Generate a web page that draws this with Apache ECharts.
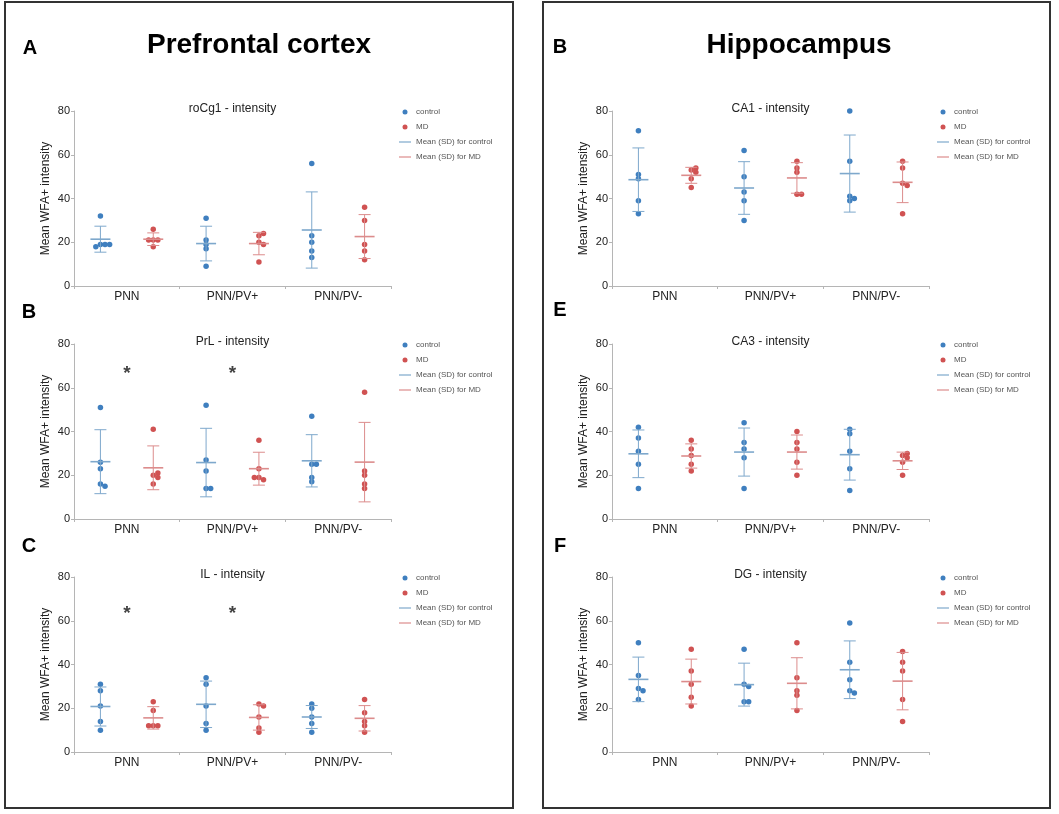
<!DOCTYPE html>
<html><head><meta charset="utf-8">
<script src="https://cdn.jsdelivr.net/npm/echarts@6/dist/echarts.min.js"></script>
<style>html,body{margin:0;padding:0;background:#fff}#c{width:1059px;height:814px}</style>
</head><body><div id="c"></div>
<script>
// ---------- data ----------
const categories = ['PNN', 'PNN/PV+', 'PNN/PV-'];
const yMin = 0, yMax = 80, yInterval = 20;

const roCg1_control = [[19, 19, 18, 19, 32], [31, 21, 17, 9, 19], [56, 23, 20, 16, 13]];
const roCg1_MD      = [[26, 21, 21, 21, 18], [23, 24, 20, 19, 11], [36, 30, 19, 16, 12]];
const PrL_control   = [[51, 26, 23, 16, 15], [52, 27, 22, 14, 14], [47, 25, 25, 19, 17]];
const PrL_MD        = [[41, 20, 21, 19, 16], [36, 23, 19, 18, 19], [58, 22, 20, 16, 14]];
const IL_control    = [[31, 28, 21, 14, 10], [34, 31, 21, 13, 10], [22, 20, 16, 13, 9]];
const IL_MD         = [[23, 19, 12, 12, 12], [22, 21, 16, 11, 9], [24, 18, 14, 12, 9]];
const CA1_control   = [[71, 51, 49, 39, 33], [62, 50, 43, 39, 30], [80, 57, 41, 40, 39]];
const CA1_MD        = [[53, 54, 52, 49, 45], [57, 54, 52, 42, 42], [57, 54, 47, 46, 33]];
const CA3_control   = [[42, 37, 31, 25, 14], [44, 35, 32, 28, 14], [41, 39, 31, 23, 13]];
const CA3_MD        = [[36, 32, 29, 25, 22], [40, 35, 32, 26, 20], [29, 30, 28, 26, 20]];
const DG_control    = [[50, 35, 29, 28, 24], [47, 31, 30, 23, 23], [59, 41, 33, 28, 27]];
const DG_MD         = [[47, 37, 31, 25, 21], [50, 34, 28, 26, 19], [46, 41, 37, 24, 14]];

// significance stars: categories marked and height (axis value)
const PrL_stars = ['PNN', 'PNN/PV+'], PrL_starY = 68;
const IL_stars  = ['PNN', 'PNN/PV+'], IL_starY = 65;

const legendNames = ['control', 'MD', 'Mean (SD) for control', 'Mean (SD) for MD'];
const yAxisName = 'Mean WFA+ intensity';

// ---------- styling ----------
const FONT = '"Liberation Sans", Arial, Helvetica, sans-serif';
const blueDot = '#3f7fbf', redDot = '#d05252';
const blueLine = '#7ea8cc', redLine = '#dc8c8c';
const axisCol = '#b5b5b5';

const panels = [
  {title: 'roCg1 - intensity', control: roCg1_control, md: roCg1_MD, col: 0, row: 0},
  {title: 'PrL - intensity', control: PrL_control, md: PrL_MD, col: 0, row: 1, stars: PrL_stars, starY: PrL_starY},
  {title: 'IL - intensity', control: IL_control, md: IL_MD, col: 0, row: 2, stars: IL_stars, starY: IL_starY},
  {title: 'CA1 - intensity', control: CA1_control, md: CA1_MD, col: 1, row: 0},
  {title: 'CA3 - intensity', control: CA3_control, md: CA3_MD, col: 1, row: 1},
  {title: 'DG - intensity', control: DG_control, md: DG_MD, col: 1, row: 2}
];

const colLeft = [74, 612], gridW = 317;
const rowTop = [111, 344, 577], gridH = 175;
const pxPerUnit = gridH / (yMax - yMin);

function meanOf(a) { return a.reduce((s, v) => s + v, 0) / a.length; }
function sdOf(a) { const m = meanOf(a); return Math.sqrt(a.reduce((s, v) => s + (v - m) * (v - m), 0) / (a.length - 1)); }

// simple beeswarm: horizontal pixel offsets so dots do not overlap
function swarm(vals) {
  const placed = [], offs = [];
  const D = 4.3, step = 4.6;
  vals.forEach(v => {
    const y = v * pxPerUnit;
    let dx = 0;
    for (let t = 0; t < 30; t++) {
      dx = t === 0 ? 0 : (t % 2 === 1 ? Math.ceil(t / 2) * step : -Math.ceil(t / 2) * step);
      if (placed.every(p => (p[0] - dx) * (p[0] - dx) + (p[1] - y) * (p[1] - y) >= D * D)) break;
    }
    placed.push([dx, y]); offs.push(dx);
  });
  return offs;
}

function errRender(color) {
  return function (params, api) {
    const x = api.value(0), m = api.value(1), s = api.value(2);
    const c = api.coord([x, m]), t = api.coord([x, m + s]), b = api.coord([x, m - s]);
    const thin = {stroke: color, lineWidth: 1};
    return {type: 'group', children: [
      {type: 'line', shape: {x1: c[0], y1: t[1], x2: c[0], y2: b[1]}, style: thin},
      {type: 'line', shape: {x1: c[0] - 6, y1: t[1], x2: c[0] + 6, y2: t[1]}, style: thin},
      {type: 'line', shape: {x1: c[0] - 6, y1: b[1], x2: c[0] + 6, y2: b[1]}, style: thin},
      {type: 'line', shape: {x1: c[0] - 10, y1: c[1], x2: c[0] + 10, y2: c[1]}, style: {stroke: color, lineWidth: 1.6}}
    ]};
  };
}

const linePath = 'path://M0,0L0,0M0,1.9L12,1.9L12,3.1L0,3.1ZM12,5L12,5';

const grid = [], xAxis = [], yAxis = [], series = [], legend = [], graphic = [];

panels.forEach((p, k) => {
  const left = colLeft[p.col], top = rowTop[p.row];
  grid.push({left: left, top: top, width: gridW, height: gridH, containLabel: false});
  xAxis.push({
    type: 'category', gridIndex: k, data: categories, position: 'bottom',
    axisLine: {lineStyle: {color: axisCol, width: 1}},
    axisTick: {show: true, length: 3, lineStyle: {color: axisCol}},
    axisLabel: {fontFamily: FONT, fontSize: 12, color: '#222', margin: 5},
    splitLine: {show: false}
  });
  xAxis.push({type: 'value', gridIndex: k, min: 0, max: categories.length * 2, show: false});
  yAxis.push({
    type: 'value', gridIndex: k, min: yMin, max: yMax, interval: yInterval,
    name: yAxisName, nameLocation: 'middle', nameGap: 22,
    nameTextStyle: {fontFamily: FONT, fontSize: 12, color: '#222'},
    axisLine: {show: true, lineStyle: {color: axisCol, width: 1}},
    axisTick: {show: true, length: 3, lineStyle: {color: axisCol}},
    axisLabel: {fontFamily: FONT, fontSize: 11, color: '#222', margin: 4},
    splitLine: {show: false}
  });

  const xi = 2 * k + 1;
  const groups = [
    {name: legendNames[0], lname: legendNames[2], vals: p.control, shift: 0.5, dot: blueDot, line: blueLine},
    {name: legendNames[1], lname: legendNames[3], vals: p.md, shift: 1.5, dot: redDot, line: redLine}
  ];
  groups.forEach(g => {
    const pts = [], stats = [];
    g.vals.forEach((arr, i) => {
      const offs = swarm(arr);
      arr.forEach((v, j) => pts.push({value: [2 * i + g.shift, v], symbolOffset: [offs[j], 0]}));
      stats.push([2 * i + g.shift, meanOf(arr), sdOf(arr)]);
    });
    series.push({
      name: g.name, type: 'scatter', xAxisIndex: xi, yAxisIndex: k,
      symbol: 'circle', symbolSize: 5.5, itemStyle: {color: g.dot, opacity: 1},
      data: pts, z: 3, silent: true
    });
    series.push({
      name: g.lname, type: 'custom', xAxisIndex: xi, yAxisIndex: k,
      dimensions: ['x', 'mean', 'sd'], encode: {x: 0, y: 1},
      itemStyle: {color: g.line}, renderItem: errRender(g.line),
      data: stats, z: 4, silent: true
    });
  });

  if (p.stars) {
    series.push({
      name: 'sig', type: 'scatter', xAxisIndex: xi, yAxisIndex: k,
      symbolSize: 1, itemStyle: {color: 'rgba(0,0,0,0)'},
      label: {show: true, position: 'inside', formatter: '*', fontFamily: FONT, fontSize: 19, fontWeight: 'bold', color: '#111', offset: [0, 4]},
      data: p.stars.map(c => [2 * categories.indexOf(c) + 1, p.starY]), z: 5, silent: true
    });
  }

  legend.push({
    orient: 'vertical', left: p.col === 0 ? 394 : 932, top: top - 8,
    itemWidth: 12, itemHeight: 5, itemGap: 7, selectedMode: false,
    textStyle: {fontFamily: FONT, fontSize: 8, color: '#555'},
    data: [
      {name: legendNames[0], icon: 'circle', itemStyle: {color: blueDot}},
      {name: legendNames[1], icon: 'circle', itemStyle: {color: redDot}},
      {name: legendNames[2], icon: linePath, itemStyle: {color: blueLine}},
      {name: legendNames[3], icon: linePath, itemStyle: {color: redLine}}
    ]
  });

  graphic.push({type: 'text', x: left + gridW / 2, y: top - 2, silent: true,
    style: {text: p.title, font: '12px ' + FONT, fill: '#222', textAlign: 'center', textVerticalAlign: 'middle', align: 'center', verticalAlign: 'middle'}});
});

// frames, headers and panel letters
graphic.push({type: 'rect', shape: {x: 5, y: 2, width: 508, height: 806}, style: {fill: 'none', stroke: '#333', lineWidth: 2}, silent: true});
graphic.push({type: 'rect', shape: {x: 543, y: 2, width: 507, height: 806}, style: {fill: 'none', stroke: '#333', lineWidth: 2}, silent: true});
const headers = [
  {t: 'Prefrontal cortex', x: 259, y: 45, f: 'bold 28px '},
  {t: 'Hippocampus', x: 799, y: 45, f: 'bold 28px '},
  {t: 'A', x: 30, y: 48, f: 'bold 20px '},
  {t: 'B', x: 29, y: 312, f: 'bold 20px '},
  {t: 'C', x: 29, y: 546, f: 'bold 20px '},
  {t: 'B', x: 560, y: 47, f: 'bold 20px '},
  {t: 'E', x: 560, y: 310, f: 'bold 20px '},
  {t: 'F', x: 560, y: 546, f: 'bold 20px '}
];
headers.forEach(h => graphic.push({type: 'text', x: h.x, y: h.y, silent: true,
  style: {text: h.t, font: h.f + FONT, fill: '#000', textAlign: 'center', textVerticalAlign: 'middle', align: 'center', verticalAlign: 'middle'}}));

const chart = echarts.init(document.getElementById('c'), null, {renderer: 'canvas'});
chart.setOption({
  animation: false,
  backgroundColor: '#fff',
  textStyle: {fontFamily: FONT},
  grid, xAxis, yAxis, series, legend, graphic
});
</script></body></html>
